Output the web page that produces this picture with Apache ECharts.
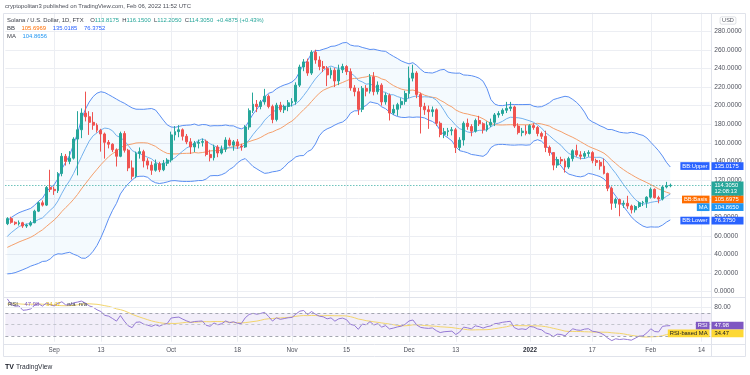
<!DOCTYPE html>
<html><head><meta charset="utf-8">
<script src="https://cdn.jsdelivr.net/npm/echarts@6.0.0/dist/echarts.min.js"></script>
<style>html,body{margin:0;padding:0;background:#fff}#c{width:750px;height:375px}</style>
</head><body><div id="c"></div>
<script>
// ---------- DATA ----------
const firstDate = '2021-08-20';
const futureDays = 10;
const open = [73.0,78.5,74.5,73.0,74.0,70.5,71.5,74.0,86.5,95.5,93.0,112.0,110.0,108.5,127.0,145.5,140.0,143.5,164.0,174.0,
192.0,188.0,182.0,179.0,173.5,169.5,160.5,158.5,152.5,145.5,170.0,152.0,133.0,124.0,148.5,150.5,140.5,136.0,130.5,137.5,
131.0,138.0,141.5,168.5,172.0,174.0,167.0,161.0,155.5,159.5,160.5,161.5,147.5,144.0,155.5,149.0,153.0,163.0,157.5,161.0,
156.5,155.5,177.0,194.5,201.5,199.0,204.0,210.0,199.0,185.0,200.5,195.5,199.0,203.0,204.5,222.0,241.5,247.0,235.0,257.5,
249.0,242.0,240.0,233.0,238.0,226.5,238.5,242.0,236.5,219.0,215.0,196.0,218.5,215.5,231.0,215.0,222.0,204.0,211.0,192.0,
196.0,201.0,204.5,213.0,229.5,235.0,212.0,199.0,195.5,193.5,195.5,181.0,169.0,172.0,173.0,174.0,155.0,163.0,181.0,177.5,
172.5,184.0,180.5,174.0,179.0,182.0,190.0,191.5,195.0,197.0,198.5,178.0,171.0,172.5,170.0,178.5,176.5,170.0,167.0,155.0,
149.5,136.0,142.0,140.5,134.0,143.0,151.5,147.0,145.5,148.5,149.5,141.0,139.0,135.0,127.0,111.0,95.0,99.0,94.0,95.0,
92.0,88.0,91.5,95.5,96.0,101.5,110.0,101.0,99.5,112.5,113.8175];
const high = [80.0,80.5,75.5,76.5,75.0,73.0,76.0,88.0,97.0,98.0,113.5,131.0,113.0,128.5,149.0,148.0,151.0,166.0,194.0,197.0,
215.0,194.0,193.0,181.0,175.0,171.0,163.0,159.5,154.0,172.0,172.5,153.5,141.0,150.5,155.0,152.5,143.5,140.0,142.0,139.5,
141.5,143.5,172.0,178.0,179.0,175.5,169.5,165.0,162.0,163.5,164.5,163.5,152.5,158.0,157.5,157.0,166.0,165.5,163.0,164.0,
159.0,179.0,197.0,214.0,206.0,206.0,218.0,212.0,201.0,203.0,204.0,201.0,206.0,208.0,225.0,244.0,250.0,250.5,259.5,260.0,
253.0,248.0,242.5,241.0,240.5,244.0,245.0,243.5,240.0,222.0,219.0,221.0,222.0,234.0,236.0,226.0,224.0,214.0,213.0,201.0,
203.0,208.0,216.0,242.0,244.0,237.0,214.0,203.0,200.0,199.0,197.0,183.0,176.0,176.0,177.0,176.0,166.0,183.0,186.0,180.0,
186.0,189.0,182.0,183.0,186.0,192.0,194.0,197.0,204.0,204.0,200.0,181.0,176.0,179.0,180.0,181.0,178.0,172.0,173.0,157.0,
150.0,145.0,145.0,143.0,145.0,153.0,158.0,151.0,151.0,152.0,151.0,143.0,141.5,143.0,128.0,113.0,101.0,100.0,98.0,103.0,
93.5,93.0,97.0,97.5,102.5,112.0,111.0,103.0,114.0,118.0,116.15];
const low = [71.5,73.0,71.5,71.0,68.5,68.5,70.0,73.5,85.5,91.5,92.0,107.0,104.0,106.0,124.0,135.5,137.0,142.0,125.0,165.0,
183.0,168.5,174.0,171.0,150.5,143.0,154.0,150.0,134.5,144.5,149.5,129.5,120.5,122.0,143.0,133.5,131.5,125.5,129.0,128.5,
129.5,135.0,139.0,162.5,166.0,162.5,158.5,148.0,150.0,154.0,156.0,145.5,140.0,141.0,144.5,147.5,150.0,156.0,151.5,153.5,
151.5,154.5,174.0,192.0,193.0,196.0,201.0,197.0,181.0,183.0,193.0,192.0,194.0,199.0,201.0,220.0,237.0,232.0,233.0,245.0,
238.0,236.0,221.0,229.0,220.0,222.0,235.0,233.0,216.0,210.0,190.0,193.0,210.0,213.0,211.0,212.0,200.0,201.0,184.0,190.0,
189.0,197.0,201.0,208.0,226.0,208.0,170.0,190.0,175.0,188.0,178.0,166.0,165.0,167.0,168.0,149.0,152.0,157.0,174.0,167.0,
171.0,178.0,170.0,172.0,177.0,178.0,187.0,189.0,192.0,194.0,176.0,169.0,167.0,168.0,169.0,174.0,167.0,164.0,150.0,146.0,
130.5,133.0,137.0,128.0,132.0,140.0,145.0,142.0,143.0,145.0,138.0,135.0,131.0,126.0,108.0,88.0,90.0,81.0,90.0,89.0,
84.0,85.0,90.0,92.0,90.0,100.0,100.0,95.0,98.0,111.0,112.205];
const close = [78.5,74.5,73.0,74.0,70.5,71.5,74.0,86.5,95.5,93.0,112.0,110.0,108.5,127.0,145.5,140.0,143.5,164.0,174.0,192.0,
188.0,182.0,179.0,173.5,169.5,160.5,158.5,152.5,145.5,170.0,152.0,133.0,124.0,148.5,150.5,140.5,136.0,130.5,137.5,131.0,
138.0,141.5,168.5,172.0,174.0,167.0,161.0,155.5,159.5,160.5,161.5,147.5,144.0,155.5,149.0,153.0,163.0,157.5,161.0,156.5,
155.5,177.0,194.5,201.5,199.0,204.0,210.0,199.0,185.0,200.5,195.5,199.0,203.0,204.5,222.0,241.5,247.0,235.0,257.5,249.0,
242.0,240.0,233.0,238.0,226.5,238.5,242.0,236.5,219.0,215.0,196.0,218.5,215.5,231.0,215.0,222.0,204.0,211.0,192.0,196.0,
201.0,204.5,213.0,229.5,235.0,212.0,199.0,195.5,193.5,195.5,181.0,169.0,172.0,173.0,174.0,155.0,163.0,181.0,177.5,172.5,
184.0,180.5,174.0,179.0,182.0,190.0,191.5,195.0,197.0,198.5,178.0,171.0,172.5,170.0,178.5,176.5,170.0,167.0,155.0,149.5,
136.0,142.0,140.5,134.0,143.0,151.5,147.0,145.5,148.5,149.5,141.0,139.0,135.0,127.0,111.0,95.0,99.0,94.0,95.0,92.0,
88.0,91.5,95.5,96.0,101.5,110.0,101.0,99.5,112.5,113.8175,114.305];
// closes of the days before the first visible candle (Jul 20 .. Aug 19), used only to seed the indicators
const preClose = [25.0,27.5,28.0,29.5,30.0,29.0,29.0,30.5,30.5,32.0,33.5,35.0,34.7,35.3,34.4,37.5,39.1,38.8,38.6,37.3,
40.3,40.2,39.9,38.9,43.3,44.8,54.0,62.0,70.0,70.0,73.0];

const tickDates = ['2021-09-01','2021-09-13','2021-10-01','2021-10-18','2021-11-01','2021-11-15','2021-12-01','2021-12-13','2022-01-01','2022-01-17','2022-02-01','2022-02-14'];
const tickTexts = ['Sep','13','Oct','18','Nov','15','Dec','13','2022','17','Feb','14'];

const priceLabelNames  = ['BB:Upper', '', 'BB:Basis', 'MA', 'BB:Lower'];
const priceLabelTexts  = ['135.0175', '114.3050\n12:08:13', '105.6975', '104.8650', '76.3750'];
const priceLabelValues = [135.0175, 114.305, 105.6975, 104.865, 76.375];
const priceLabelColors = ['#2962ff', '#26a69a', '#ff6d00', '#2196f3', '#2962ff'];
const rsiLabelNames  = ['RSI', 'RSI-based MA'];
const rsiLabelTexts  = ['47.98', '34.47'];
const rsiLabelValues = [47.98, 34.47];
const rsiLabelColors = ['#7e57c2', '#fdd835'];
const rsiLabelTextColors = ['#ffffff', '#131722'];

const headerText = 'cryptopolitan3 published on TradingView.com, Feb 06, 2022 11:52 UTC';
const symbolText = 'Solana / U.S. Dollar, 1D, FTX';
const ohlcKeys = ['O', 'H', 'L', 'C'];
const ohlcTexts = ['113.8175', '116.1500', '112.2050', '114.3050'];
const changeText = '+0.4875 (+0.43%)';
const bbTexts = ['105.6969', '135.0185', '76.3752'];
const maText = '104.8656';
const rsiTexts = ['47.98', '34.47'];

// ---------- categories ----------
const categories = [];
(function () {
  const t0 = Date.parse(firstDate + 'T00:00:00Z');
  for (let i = 0; i < close.length + futureDays; i++) {
    categories.push(new Date(t0 + i * 86400000).toISOString().slice(0, 10));
  }
})();

// ---------- indicators (BB 20,2 ; MA 9 ; RSI 14 + SMA 14) ----------
const allClose = preClose.concat(close);
const P = preClose.length;
function smaAt(arr, end, n) { let s = 0; for (let k = end - n + 1; k <= end; k++) s += arr[k]; return s / n; }
const bbBasis = [], bbUpper = [], bbLower = [], ma9 = [];
for (let i = 0; i < close.length; i++) {
  const e = P + i, m = smaAt(allClose, e, 20);
  let v = 0; for (let k = e - 19; k <= e; k++) v += (allClose[k] - m) * (allClose[k] - m);
  const sd = Math.sqrt(v / 20);
  bbBasis.push(m); bbUpper.push(m + 2 * sd); bbLower.push(m - 2 * sd);
  ma9.push(smaAt(allClose, e, 9));
}
const bbWidth = bbUpper.map((u, i) => u - bbLower[i]);
const rsiAll = new Array(allClose.length).fill(null);
(function () {
  let au = 0, ad = 0;
  for (let k = 1; k < allClose.length; k++) {
    const ch = allClose[k] - allClose[k - 1], u = Math.max(ch, 0), d = Math.max(-ch, 0);
    if (k <= 14) { au += u; ad += d; if (k === 14) { au /= 14; ad /= 14; rsiAll[k] = 100 - 100 / (1 + au / ad); } }
    else { au = (au * 13 + u) / 14; ad = (ad * 13 + d) / 14; rsiAll[k] = ad === 0 ? 100 : 100 - 100 / (1 + au / ad); }
  }
})();
const rsi = [], rsiMa = [];
for (let i = 0; i < close.length; i++) {
  const e = P + i; rsi.push(rsiAll[e]);
  let s = 0; for (let k = e - 13; k <= e; k++) s += rsiAll[k]; rsiMa.push(s / 14);
}
const candles = close.map((c, i) => [open[i], c, low[i], high[i]]);

// ---------- chart ----------
const FONT = '"Liberation Sans", Arial, sans-serif';
const GRID_L = 5.35, BAND = 3.9;
const GRID_W = BAND * categories.length;
const isTick = (idx, val) => tickDates.indexOf(val) >= 0;
const gridLine = '#eceef3';
const LF = 5.9; // legend font size

const chart = echarts.init(document.getElementById('c'), null, { renderer: 'canvas' });
chart.setOption({
  animation: false,
  backgroundColor: '#ffffff',
  grid: [
    { left: GRID_L, top: 12.6, width: GRID_W, height: 297.6, outerBoundsMode: 'none' },
    { left: GRID_L, top: 295.75, width: GRID_W, height: 46, outerBoundsMode: 'none' }
  ],
  xAxis: [
    { type: 'category', gridIndex: 0, data: categories, boundaryGap: true,
      axisLine: { show: false }, axisTick: { show: false }, axisLabel: { show: false },
      splitLine: { show: true, interval: isTick, alignWithLabel: true, lineStyle: { color: gridLine, width: 1 } } },
    { type: 'category', gridIndex: 1, data: categories, boundaryGap: true,
      axisLine: { show: false }, axisTick: { show: false, alignWithLabel: true },
      axisLabel: { show: true, interval: isTick, margin: 6, color: '#50535e', fontSize: 6.3, fontFamily: FONT,
        formatter: v => { const t = tickTexts[tickDates.indexOf(v)]; return t === '2022' ? '{b|2022}' : t; },
        rich: { b: { fontWeight: 'bold', fontSize: 6.3, fontFamily: FONT, color: '#2a2e39' } } },
      splitLine: { show: true, interval: isTick, alignWithLabel: true, lineStyle: { color: gridLine, width: 1 } } }
  ],
  yAxis: [
    { type: 'value', gridIndex: 0, position: 'right', min: -20, max: 300, interval: 20,
      axisLine: { show: false }, axisTick: { show: false },
      axisLabel: { margin: 3, color: '#50535e', fontSize: 6.6, fontFamily: FONT,
        formatter: v => (v >= 0 && v < 300) ? v.toFixed(4) : '' },
      splitLine: { show: true, showMinLine: false, showMaxLine: false, lineStyle: { color: gridLine, width: 1 } } },
    { type: 'value', gridIndex: 1, position: 'right', min: 20, max: 100, interval: 20,
      axisLine: { show: false }, axisTick: { show: false },
      axisLabel: { margin: 3, color: '#50535e', fontSize: 6.6, fontFamily: FONT,
        formatter: v => v === 80 ? '80.00' : '' },
      splitLine: { show: false } }
  ],
  series: [
    { type: 'line', xAxisIndex: 0, yAxisIndex: 0, data: bbLower, stack: 'bb', symbol: 'none', silent: true,
      lineStyle: { opacity: 0 }, z: 1 },
    { type: 'line', xAxisIndex: 0, yAxisIndex: 0, data: bbWidth, stack: 'bb', symbol: 'none', silent: true,
      lineStyle: { opacity: 0 }, areaStyle: { color: 'rgba(33,150,243,0.075)' }, z: 1 },
    { type: 'line', xAxisIndex: 0, yAxisIndex: 0, data: bbUpper, symbol: 'none', silent: true,
      lineStyle: { color: '#5b8ff3', width: 1 }, z: 2 },
    { type: 'line', xAxisIndex: 0, yAxisIndex: 0, data: bbLower, symbol: 'none', silent: true,
      lineStyle: { color: '#5b8ff3', width: 1 }, z: 2 },
    { type: 'line', xAxisIndex: 0, yAxisIndex: 0, data: bbBasis, symbol: 'none', silent: true,
      lineStyle: { color: '#f5a06c', width: 1 }, z: 2 },
    { type: 'line', xAxisIndex: 0, yAxisIndex: 0, data: ma9, symbol: 'none', silent: true,
      lineStyle: { color: '#74b2ee', width: 1 }, z: 2 },
    { type: 'candlestick', xAxisIndex: 0, yAxisIndex: 0, data: candles, barWidth: 2.4, silent: true,
      itemStyle: { color: '#26a69a', color0: '#ef5350', borderColor: '#26a69a', borderColor0: '#ef5350', borderWidth: 1 },
      markLine: { silent: true, symbol: 'none', label: { show: false },
        lineStyle: { type: [1, 2], color: '#26a69a', width: 1 }, data: [{ yAxis: close[close.length - 1] }] },
      z: 5 },
    { type: 'line', xAxisIndex: 1, yAxisIndex: 1, data: rsi, symbol: 'none', silent: true,
      lineStyle: { color: '#9479d4', width: 1 }, z: 4,
      markArea: { silent: true, itemStyle: { color: 'rgba(126,87,194,0.1)' }, data: [[{ yAxis: 30 }, { yAxis: 70 }]] },
      markLine: { silent: true, symbol: 'none', label: { show: false },
        data: [
          { yAxis: 80, lineStyle: { type: 'solid', color: gridLine, width: 1 } },
          { yAxis: 70, lineStyle: { type: [3, 3], color: '#a4a7b1', width: 1 } },
          { yAxis: 50, lineStyle: { type: [3, 3], color: '#c3c5cd', width: 1 } },
          { yAxis: 30, lineStyle: { type: [3, 3], color: '#a4a7b1', width: 1 } }
        ] } },
    { type: 'line', xAxisIndex: 1, yAxisIndex: 1, data: rsiMa, symbol: 'none', silent: true,
      lineStyle: { color: '#f2d56c', width: 1 }, z: 3 }
  ]
});

// ---------- overlay text, frame, axis tags ----------
const g = [];
const F = (s, w) => ({ fontSize: s, fontFamily: FONT, fontWeight: w || 'normal' });
// frame
g.push({ type: 'rect', z: 50, silent: true, shape: { x: 3.5, y: 13.5, width: 742, height: 343 }, style: { fill: 'none', stroke: '#e0e3eb', lineWidth: 1 } });
g.push({ type: 'line', z: 50, silent: true, shape: { x1: 711.5, y1: 13.5, x2: 711.5, y2: 356.5 }, style: { stroke: '#e0e3eb', lineWidth: 1 } });
g.push({ type: 'line', z: 50, silent: true, shape: { x1: 3.5, y1: 297.5, x2: 745.5, y2: 297.5 }, style: { stroke: '#e0e3eb', lineWidth: 1 } });
g.push({ type: 'line', z: 50, silent: true, shape: { x1: 3.5, y1: 344.5, x2: 745.5, y2: 344.5 }, style: { stroke: '#e0e3eb', lineWidth: 1 } });
// header
g.push({ type: 'text', z: 60, silent: true, x: 5, y: 6.5, style: Object.assign({ text: headerText, fill: '#4a4d57', verticalAlign: 'middle' }, F(LF)) });
// legend rows
const dark = '#3b3e48', teal = '#26a69a';
let row1 = '{t|' + symbolText + '}  ';
ohlcKeys.forEach((k, i) => { row1 += '{k|' + k + '}{v|' + ohlcTexts[i] + '} '; });
row1 += '{v|' + changeText + '}';
g.push({ type: 'text', z: 60, silent: true, x: 7, y: 20.5, style: { text: row1, verticalAlign: 'middle', rich: {
  t: Object.assign({ fill: dark }, F(LF)), k: Object.assign({ fill: dark }, F(LF)), v: Object.assign({ fill: teal }, F(LF)) } } });
g.push({ type: 'text', z: 60, silent: true, x: 7, y: 28.5, style: { text: '{k|BB}  {a|' + bbTexts[0] + '}  {b|' + bbTexts[1] + '}  {b|' + bbTexts[2] + '}', verticalAlign: 'middle', rich: {
  k: Object.assign({ fill: dark }, F(LF)), a: Object.assign({ fill: '#ff6d00' }, F(LF)), b: Object.assign({ fill: '#2962ff' }, F(LF)) } } });
g.push({ type: 'text', z: 60, silent: true, x: 7, y: 36, style: { text: '{k|MA}  {a|' + maText + '}', verticalAlign: 'middle', rich: {
  k: Object.assign({ fill: dark }, F(LF)), a: Object.assign({ fill: '#2196f3' }, F(LF)) } } });
// RSI legend
g.push({ type: 'text', z: 60, silent: true, x: 8, y: 304, style: { text: '{k|RSI}  {a|' + rsiTexts[0] + '}  {b|' + rsiTexts[1] + '}  {k|n/a  n/a}', verticalAlign: 'middle', rich: {
  k: Object.assign({ fill: dark }, F(LF)), a: Object.assign({ fill: '#7e57c2' }, F(LF)), b: Object.assign({ fill: '#e0b820' }, F(LF)) } } });
// USD tag
g.push({ type: 'text', z: 60, silent: true, x: 728, y: 20.5, style: Object.assign({ text: 'USD', fill: '#50535e', align: 'center', verticalAlign: 'middle',
  borderColor: '#c8cbd3', borderWidth: 0.6, borderRadius: 1.5, padding: [0.8, 2, 0.5, 2] }, F(5.6)) });
// TradingView logo
g.push({ type: 'text', z: 60, silent: true, x: 5, y: 367, style: Object.assign({ text: 'TV', fill: '#131722', verticalAlign: 'middle' }, F(7, 900)) });
g.push({ type: 'text', z: 60, silent: true, x: 16, y: 367, style: Object.assign({ text: 'TradingView', fill: '#2a2e39', verticalAlign: 'middle' }, F(6.6)) });

// axis tags, stacked so they do not overlap
function addTags(names, texts, values, colors, textColors, yAxisIndex) {
  const LH = 6.5, PAD = 0.6;
  const items = values.map((v, i) => ({ i, y: chart.convertToPixel({ yAxisIndex }, v), lines: texts[i].split('\n').length }))
    .sort((a, b) => a.y - b.y);
  let prevBottom = -1e9;
  items.forEach(it => {
    const h = it.lines * LH + 2 * PAD;
    let top = it.y - LH / 2 - PAD;
    if (top < prevBottom) top = prevBottom;
    prevBottom = top + h;
    const i = it.i, tc = textColors ? textColors[i] : '#ffffff';
    g.push({ type: 'text', z: 70, silent: true, x: 711.5, y: top, style: Object.assign({ text: texts[i], fill: tc, align: 'left', verticalAlign: 'top',
      backgroundColor: colors[i], padding: [PAD, 3, PAD, 3], lineHeight: LH, width: 26 }, F(5.8)) });
    if (names[i]) {
      g.push({ type: 'text', z: 70, silent: true, x: 709.5, y: top, style: Object.assign({ text: names[i], fill: tc, align: 'right', verticalAlign: 'top',
        backgroundColor: colors[i], padding: [PAD, 2, PAD, 2], lineHeight: LH }, F(5.8)) });
    }
  });
}
addTags(priceLabelNames, priceLabelTexts, priceLabelValues, priceLabelColors, null, 0);
addTags(rsiLabelNames, rsiLabelTexts, rsiLabelValues, rsiLabelColors, rsiLabelTextColors, 1);
chart.setOption({ graphic: g });
</script></body></html>
